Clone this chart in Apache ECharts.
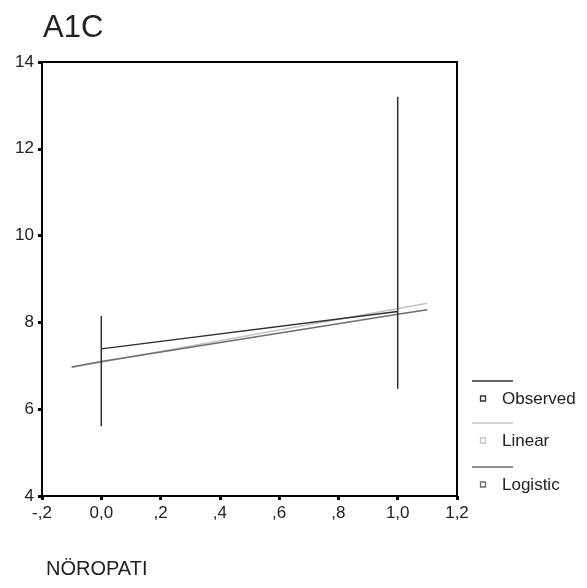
<!DOCTYPE html>
<html>
<head>
<meta charset="utf-8">
<script src="https://cdn.jsdelivr.net/npm/echarts@6/dist/echarts.min.js"></script>
<style>
html,body{margin:0;padding:0;background:#fff;}
#chart{width:587px;height:588px;}
</style>
</head>
<body>
<div id="chart"></div>
<script>
// ---- data ----
var observedX = [0, 0, 0, 1, 1, 1];
var observedY = [5.61, 8.15, 7.39, 8.25, 13.2, 6.47];
var linearX = [-0.1, 1.1];
var linearY = [6.96, 8.44];
var logisticX = [-0.1, 0, 1, 1.1];
var logisticY = [6.97, 7.10, 8.19, 8.29];
var xTickValues = [-0.2, 0, 0.2, 0.4, 0.6, 0.8, 1.0, 1.2];
var xTickLabels = ['-,2', '0,0', ',2', ',4', ',6', ',8', '1,0', '1,2'];
var yTickLabels = ['4', '6', '8', '10', '12', '14'];
var seriesNames = ['Observed', 'Linear', 'Logistic'];
var chartTitle = 'A1C';
var xTitle = 'NÖROPATI';

function pairs(xs, ys) { return xs.map(function (x, i) { return [x, ys[i]]; }); }
function xLabel(v) {
  for (var i = 0; i < xTickValues.length; i++) {
    if (Math.abs(xTickValues[i] - v) < 1e-6) return xTickLabels[i];
  }
  return '';
}

var FONT = 'Liberation Sans, Arial, sans-serif';
var colors = ['#303030', '#c4c4c4', '#6e6e6e'];

var chart = echarts.init(document.getElementById('chart'), null, {renderer: 'canvas'});

var legendItems = [];
var legTop = [381, 423, 467];
for (var i = 0; i < seriesNames.length; i++) {
  legendItems.push({
    type: 'line', shape: {x1: 472, y1: legTop[i], x2: 513, y2: legTop[i]},
    style: {stroke: colors[i], lineWidth: 1.5}, silent: true
  });
  legendItems.push({
    type: 'rect', shape: {x: 480.5, y: legTop[i] + 15, width: 5, height: 5},
    style: {stroke: colors[i], fill: '#fff', lineWidth: 1.3}, silent: true
  });
  legendItems.push({
    type: 'text', x: 502, y: legTop[i] + 18,
    style: {text: seriesNames[i], font: '17px ' + FONT, fill: '#222', textVerticalAlign: 'middle', verticalAlign: 'middle'}
  });
}

chart.setOption({
  backgroundColor: '#fff',
  animation: false,
  title: [
    {text: chartTitle, left: 38, top: 8, textStyle: {fontFamily: FONT, fontSize: 31, fontWeight: 'normal', color: '#222'}},
    {text: xTitle, left: 41, top: 554, textStyle: {fontFamily: FONT, fontSize: 20, fontWeight: 'normal', color: '#222'}}
  ],
  grid: {left: 42, right: 130, top: 62, bottom: 92, show: true, borderColor: '#000', borderWidth: 2, backgroundColor: 'transparent'},
  xAxis: {
    type: 'value', min: -0.2, max: 1.2, interval: 0.2,
    axisLine: {show: true, onZero: false, lineStyle: {color: '#000', width: 2}},
    axisTick: {show: true, inside: false, length: 4, lineStyle: {color: '#000', width: 3}},
    splitLine: {show: false},
    axisLabel: {formatter: xLabel, fontFamily: FONT, fontSize: 17, color: '#222', margin: 9}
  },
  yAxis: {
    type: 'value', min: 4, max: 14, interval: 2,
    axisLine: {show: true, onZero: false, lineStyle: {color: '#000', width: 2}},
    axisTick: {show: true, inside: false, length: 4, lineStyle: {color: '#000', width: 3}},
    splitLine: {show: false},
    axisLabel: {formatter: function (v) { var i = Math.round((v - 4) / 2); return yTickLabels[i] || ''; }, fontFamily: FONT, fontSize: 17, color: '#222', margin: 8}
  },
  series: [
    {name: seriesNames[0], type: 'line', data: pairs(observedX, observedY), showSymbol: false, lineStyle: {color: colors[0], width: 1.5}, z: 3},
    {name: seriesNames[1], type: 'line', data: pairs(linearX, linearY), showSymbol: false, lineStyle: {color: colors[1], width: 1.5}, z: 2},
    {name: seriesNames[2], type: 'line', data: pairs(logisticX, logisticY), showSymbol: false, lineStyle: {color: colors[2], width: 1.5}, z: 2}
  ],
  graphic: legendItems
});
</script>
</body>
</html>
